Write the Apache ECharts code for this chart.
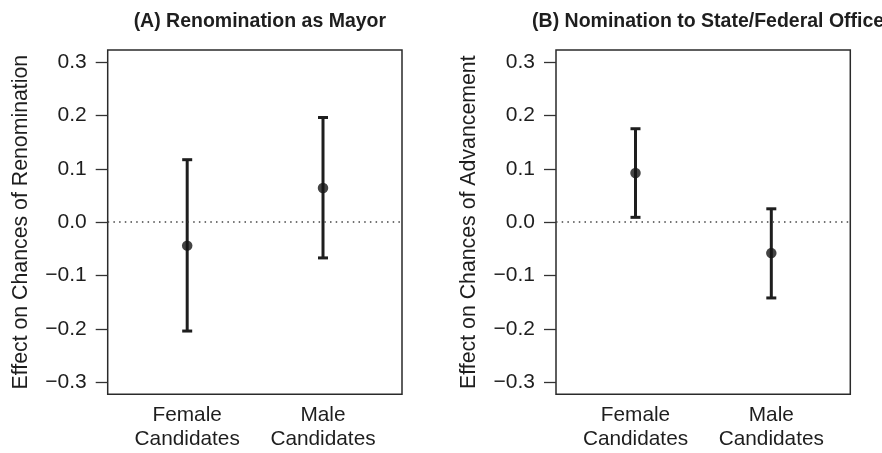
<!DOCTYPE html>
<html>
<head>
<meta charset="utf-8">
<script src="https://cdn.jsdelivr.net/npm/echarts@6/dist/echarts.min.js"></script>
<style>html,body{margin:0;padding:0;background:#fff}#c{width:882px;height:453px}</style>
</head>
<body>
<div id="c"></div>
<script>
// ---- data ----
const categories = ['Female\nCandidates', 'Male\nCandidates'];
const xPositions = [1, 2];
const yTicks = [-0.3, -0.2, -0.1, 0, 0.1, 0.2, 0.3];
const panelTitles = ['(A) Renomination as Mayor', '(B) Nomination to State/Federal Office'];
const yNames = ['Effect on Chances of Renomination', 'Effect on Chances of Advancement'];
const renomEst = [-0.044, 0.064];
const renomLow = [-0.204, -0.067];
const renomHigh = [0.117, 0.196];
const advEst = [0.092, -0.058];
const advLow = [0.009, -0.142];
const advHigh = [0.175, 0.025];

// ---- layout ----
const FONT = '"Liberation Sans", Arial, Helvetica, sans-serif';
const TXT = '#1e1e1e';
const gridLefts = [107.7, 556];
const gridTop = 50, gridW = 294.3, gridH = 344.3;

const chart = echarts.init(document.getElementById('c'), null, {renderer: 'canvas'});

function fmtTick(v) {
  const s = Math.abs(v).toFixed(1);
  return (v < -1e-9 ? '\u2212' : '') + s;
}

const grids = gridLefts.map(l => ({
  left: l, top: gridTop, width: gridW, height: gridH,
  show: true, borderColor: '#2a2a2a', borderWidth: 1.5, backgroundColor: '#fff'
}));

const xAxes = [0, 1].map(i => ({
  type: 'value', gridIndex: i, min: 0.4147, max: 2.5816,
  axisLine: {show: false}, axisTick: {show: false}, splitLine: {show: false},
  axisLabel: {
    customValues: xPositions,
    formatter: v => categories[xPositions.indexOf(Math.round(v))] || '',
    color: TXT, fontFamily: FONT, fontSize: 20.8, lineHeight: 24, margin: 9
  }
}));

const yAxes = [0, 1].map(i => ({
  type: 'value', gridIndex: i, min: -0.3225, max: 0.3225,
  name: yNames[i], nameLocation: 'middle', nameGap: 76, nameRotate: 90,
  nameTextStyle: {color: TXT, fontFamily: FONT, fontSize: 21.3},
  axisLine: {show: false}, splitLine: {show: false},
  axisTick: {show: true, customValues: yTicks, length: 12, lineStyle: {color: '#333', width: 1.3}},
  axisLabel: {customValues: yTicks, formatter: fmtTick, color: TXT, fontFamily: FONT, fontSize: 21, margin: 21}
}));

function errRender(params, api) {
  const x = api.value(0), lo = api.value(1), hi = api.value(2);
  const p1 = api.coord([x, lo]), p2 = api.coord([x, hi]);
  const hw = 5;
  const st = {stroke: '#1e1e1e', lineWidth: 3};
  return {type: 'group', children: [
    {type: 'line', shape: {x1: p1[0], y1: p1[1], x2: p2[0], y2: p2[1]}, style: st},
    {type: 'line', shape: {x1: p1[0] - hw, y1: p1[1], x2: p1[0] + hw, y2: p1[1]}, style: st},
    {type: 'line', shape: {x1: p2[0] - hw, y1: p2[1], x2: p2[0] + hw, y2: p2[1]}, style: st}
  ]};
}

const panels = [[renomEst, renomLow, renomHigh], [advEst, advLow, advHigh]];
const series = [];
panels.forEach((p, i) => {
  const [est, lo, hi] = p;
  series.push({
    type: 'custom', xAxisIndex: i, yAxisIndex: i, renderItem: errRender, z: 3,
    encode: {x: 0, y: [1, 2]},
    data: xPositions.map((x, k) => [x, lo[k], hi[k]])
  });
  series.push({
    type: 'scatter', xAxisIndex: i, yAxisIndex: i, z: 4,
    symbol: 'circle', symbolSize: 10.5, itemStyle: {color: '#151515'},
    data: xPositions.map((x, k) => [x, est[k]]),
    markLine: {
      silent: true, symbol: ['none', 'none'], label: {show: false},
      lineStyle: {type: [1.5, 4.2], color: '#444', width: 1.5},
      data: [{yAxis: 0}]
    }
  });
});

const titles = [0, 1].map(i => ({
  text: panelTitles[i], left: gridLefts[i] + gridW / 2, top: 7, textAlign: 'center',
  textStyle: {color: TXT, fontFamily: FONT, fontSize: 19.5, fontWeight: 'bold'}
}));

chart.setOption({
  animation: false,
  backgroundColor: '#fff',
  title: titles,
  grid: grids,
  xAxis: xAxes,
  yAxis: yAxes,
  series: series
});
</script>
</body>
</html>
